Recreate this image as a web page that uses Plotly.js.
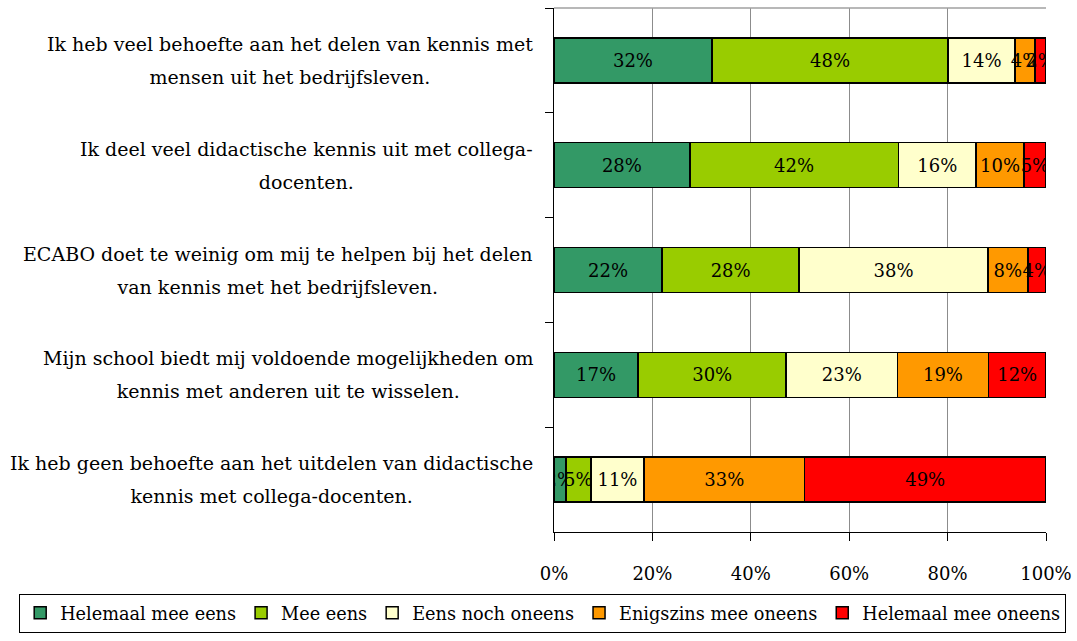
<!DOCTYPE html>
<html>
<head>
<meta charset="utf-8">
<script src="https://cdn.plot.ly/plotly-3.0.1.min.js"></script>
<style>html,body{margin:0;padding:0;background:#fff;}#chart{width:1077px;height:641px;}</style>
</head>
<body>
<div id="chart"></div>
<script>
const categories = [
  "Ik heb veel behoefte aan het delen van kennis met<br>mensen uit het bedrijfsleven.",
  "Ik deel veel didactische kennis uit met collega-<br>docenten.",
  "ECABO doet te weinig om mij te helpen bij het delen<br>van kennis met het bedrijfsleven.",
  "Mijn school biedt mij voldoende mogelijkheden om<br>kennis met anderen uit te wisselen.",
  "Ik heb geen behoefte aan het uitdelen van didactische<br>kennis met collega-docenten."
];
const seriesNames = ["Helemaal mee eens", "Mee eens", "Eens noch oneens", "Enigszins mee oneens", "Helemaal mee oneens"];
const helemaalMeeEens   = [32.1, 27.6, 22.0, 17.1, 2.4];
const meeEens           = [48.0, 42.4, 27.8, 30.1, 5.1];
const eensNochOneens    = [13.6, 15.8, 38.4, 22.6, 10.8];
const enigszinsOneens   = [4.1, 9.7, 8.1, 18.5, 32.6];
const helemaalOneens    = [2.2, 4.5, 3.7, 11.7, 49.1];
const colors = ["#339966", "#99CC00", "#FFFFCC", "#FF9900", "#FF0000"];
const xTickVals = [0, 20, 40, 60, 80, 100];

const FONT = "DejaVu Serif, serif";
const allSeries = [helemaalMeeEens, meeEens, eensNochOneens, enigszinsOneens, helemaalOneens];

const traces = allSeries.map((vals, i) => ({
  type: "bar",
  orientation: "h",
  name: seriesNames[i],
  y: categories,
  x: vals,
  width: 0.43,
  marker: {color: colors[i], line: {color: "#000", width: 1.5}},
  texttemplate: "%{x:.0f}%",
  textposition: "inside",
  insidetextanchor: "middle",
  textangle: 0,
  constraintext: "none",
  textfont: {family: FONT, size: 18, color: "#000"},
  hoverinfo: "skip"
}));

const annotations = categories.map(c => {
  const lines = c.split("<br>");
  return {
    xref: "paper", yref: "y",
    x: -0.039, y: c,
    xanchor: "right", yanchor: "middle",
    align: "center",
    showarrow: false,
    font: {family: FONT, size: 25.4, color: "#000"},
    text: lines.map(l => '<span style="font-size:19px">' + l + '</span>').join("<br>")
  };
});

const layout = {
  width: 1077, height: 641,
  margin: {l: 554, r: 31, t: 8, b: 106, pad: 0},
  paper_bgcolor: "#fff", plot_bgcolor: "#fff",
  barmode: "stack",
  showlegend: true,
  font: {family: FONT, size: 18, color: "#000"},
  xaxis: {
    range: [0, 100],
    tickvals: xTickVals,
    ticktext: xTickVals.map(v => v + "%"),
    showgrid: true, gridcolor: "#8c8c8c", gridwidth: 1,
    showline: true, linecolor: "#000", linewidth: 1,
    ticks: "outside", ticklen: 8, tickcolor: "#000", tickwidth: 1,
    ticklabelstandoff: 17,
    zeroline: false,
    tickfont: {family: FONT, size: 18, color: "#000"},
    fixedrange: true
  },
  yaxis: {
    type: "category",
    autorange: "reversed",
    showticklabels: false,
    showline: true, linecolor: "#000", linewidth: 1,
    ticks: "outside", tickson: "boundaries", ticklen: 8, tickcolor: "#000", tickwidth: 1,
    showgrid: false, zeroline: false,
    fixedrange: true
  },
  shapes: [{
    type: "line", xref: "paper", yref: "paper",
    x0: 0, x1: 1, y0: 1, y1: 1,
    line: {color: "#a0a0a0", width: 1.5}
  }],
  legend: {
    orientation: "h",
    x: -1.087, xanchor: "left",
    y: -0.118, yanchor: "top",
    bordercolor: "#000", borderwidth: 1,
    font: {family: FONT, size: 17.7, color: "#000"},
    traceorder: "normal",
    itemwidth: 30
  },
  annotations: annotations
};

Plotly.newPlot("chart", traces, layout, {displayModeBar: false, staticPlot: true});
</script>
</body>
</html>
